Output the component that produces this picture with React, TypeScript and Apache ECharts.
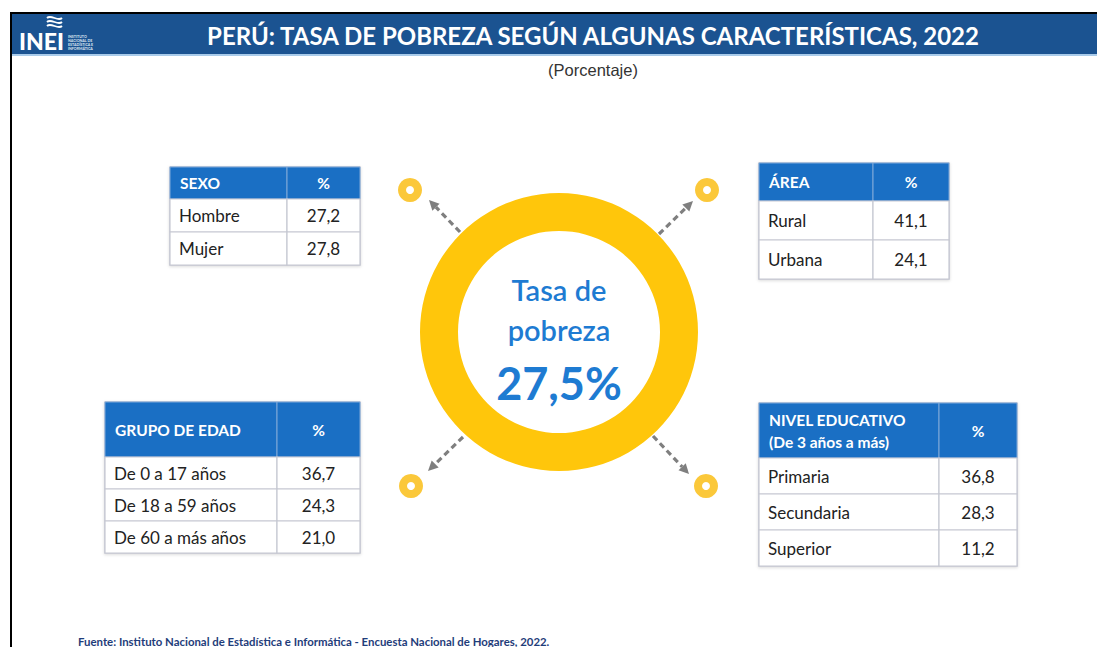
import React, { useEffect, useRef } from "react";
import * as echarts from "echarts";

// ---- Data ----
const tasaPobreza = 27.5;

const sexoHeader = ["SEXO"];
const sexoCats = ["Hombre", "Mujer"];
const sexoVals = [27.2, 27.8];

const areaHeader = ["ÁREA"];
const areaCats = ["Rural", "Urbana"];
const areaVals = [41.1, 24.1];

const edadHeader = ["GRUPO DE EDAD"];
const edadCats = ["De 0 a 17 años", "De 18 a 59 años", "De 60 a más años"];
const edadVals = [36.7, 24.3, 21.0];

const eduHeader = ["NIVEL EDUCATIVO", "(De 3 años a más)"];
const eduCats = ["Primaria", "Secundaria", "Superior"];
const eduVals = [36.8, 28.3, 11.2];

const titleText = "PERÚ: TASA DE POBREZA SEGÚN ALGUNAS CARACTERÍSTICAS, 2022";
const subtitleText = "(Porcentaje)";
const sourceText =
  "Fuente: Instituto Nacional de Estadística e Informática - Encuesta Nacional de Hogares, 2022.";

const FONT = "Lato, 'Open Sans', sans-serif";
const fmt = (v: number) => v.toFixed(1).replace(".", ",");

function makeTable(
  x: number,
  y: number,
  w: number,
  col1: number,
  headerH: number,
  rowH: number,
  header: string[],
  cats: string[],
  vals: number[]
) {
  const els: any[] = [];
  const headBlue = "#1A6FC4";
  const border = "#C6C8D2";
  const totalH = headerH + rowH * cats.length;
  els.push({
    type: "rect",
    shape: { x, y, width: w, height: totalH },
    style: { fill: "#fff", stroke: border, lineWidth: 1.5, shadowBlur: 3, shadowColor: "rgba(0,0,0,0.15)", shadowOffsetY: 1 },
  });
  els.push({
    type: "rect",
    shape: { x, y, width: col1, height: headerH },
    style: { fill: headBlue, stroke: "#7FA9D9", lineWidth: 1 },
  });
  els.push({
    type: "rect",
    shape: { x: x + col1, y, width: w - col1, height: headerH },
    style: { fill: headBlue, stroke: "#7FA9D9", lineWidth: 1 },
  });
  const lineH = 22;
  header.forEach((t, i) => {
    els.push({
      type: "text",
      x: x + 10,
      y: y + headerH / 2 + (i - (header.length - 1) / 2) * lineH,
      style: { text: t, fill: "#fff", font: `bold 15.5px ${FONT}`, verticalAlign: "middle", align: "left" },
    });
  });
  els.push({
    type: "text",
    x: x + col1 + (w - col1) / 2,
    y: y + headerH / 2,
    style: { text: "%", fill: "#fff", font: `bold 15.5px ${FONT}`, verticalAlign: "middle", align: "center" },
  });
  cats.forEach((c, i) => {
    const ry = y + headerH + i * rowH;
    els.push({
      type: "rect",
      shape: { x, y: ry, width: col1, height: rowH },
      style: { fill: "#fff", stroke: border, lineWidth: 1.2 },
    });
    els.push({
      type: "rect",
      shape: { x: x + col1, y: ry, width: w - col1, height: rowH },
      style: { fill: "#fff", stroke: border, lineWidth: 1.2 },
    });
    els.push({
      type: "text",
      x: x + 9,
      y: ry + rowH / 2,
      style: { text: c, fill: "#222", font: `17px ${FONT}`, verticalAlign: "middle", align: "left" },
    });
    els.push({
      type: "text",
      x: x + col1 + (w - col1) / 2,
      y: ry + rowH / 2,
      style: { text: fmt(vals[i]), fill: "#222", font: `17px ${FONT}`, verticalAlign: "middle", align: "center" },
    });
  });
  return els;
}

function arrow(x1: number, y1: number, x2: number, y2: number) {
  const col = "#7F7F7F";
  const ang = Math.atan2(y2 - y1, x2 - x1);
  const len = 10;
  const hw = 5;
  const bx = x2 - len * Math.cos(ang);
  const by = y2 - len * Math.sin(ang);
  const px = -Math.sin(ang);
  const py = Math.cos(ang);
  return [
    {
      type: "line",
      shape: { x1, y1, x2: bx, y2: by },
      style: { stroke: col, lineWidth: 3.2, lineDash: [6, 4] },
    },
    {
      type: "polygon",
      shape: {
        points: [
          [x2, y2],
          [bx + px * hw, by + py * hw],
          [bx - px * hw, by - py * hw],
        ],
      },
      style: { fill: col },
    },
  ];
}

function dot(cx: number, cy: number) {
  return [
    { type: "circle", shape: { cx, cy, r: 12 }, style: { fill: "#FBC83A" } },
    { type: "circle", shape: { cx, cy, r: 4 }, style: { fill: "#fff" } },
  ];
}

export default function App() {
  const ref = useRef<HTMLDivElement>(null);
  useEffect(() => {
    document.body.style.margin = "0";
    const chart = echarts.init(ref.current!, undefined, { renderer: "svg" });
    const wave = (y: number) => ({
      type: "bezierCurve",
      shape: { x1: 47, y1: y, cpx1: 51, cpy1: y - 4, cpx2: 58, cpy2: y + 4, x2: 62, y2: y },
      style: { stroke: "#fff", lineWidth: 1.8, fill: null },
    });
    const graphic: any[] = [
      { type: "rect", shape: { x: 10, y: 12, width: 1087, height: 2 }, style: { fill: "#000" } },
      { type: "rect", shape: { x: 10, y: 12, width: 2, height: 635 }, style: { fill: "#000" } },
      { type: "rect", shape: { x: 12, y: 14, width: 1085, height: 40 }, style: { fill: "#1B5391" } },
      { type: "rect", shape: { x: 12, y: 54, width: 1085, height: 2 }, style: { fill: "#A9CBEA" } },
      wave(18),
      wave(22),
      wave(26),
      {
        type: "text",
        x: 19,
        y: 41,
        style: { text: "INEI", fill: "#fff", font: `900 23px ${FONT}`, verticalAlign: "middle", align: "left" },
      },
      ...["INSTITUTO", "NACIONAL DE", "ESTADÍSTICA E", "INFORMÁTICA"].map((t, i) => ({
        type: "text",
        x: 68,
        y: 36 + i * 4.3,
        style: { text: t, fill: "#dfe8f3", font: `bold 3.6px ${FONT}`, verticalAlign: "middle", align: "left" },
      })),
      {
        type: "text",
        x: 593,
        y: 35,
        style: { text: titleText, fill: "#fff", font: `bold 24px ${FONT}`, verticalAlign: "middle", align: "center" },
      },
      {
        type: "text",
        x: 593,
        y: 70,
        style: { text: subtitleText, fill: "#333", font: `16.5px 'Liberation Sans', Arial, sans-serif`, verticalAlign: "middle", align: "center" },
      },
      {
        type: "text",
        x: 559,
        y: 289,
        style: { text: "Tasa de", fill: "#1E7BD2", font: `600 29px ${FONT}`, verticalAlign: "middle", align: "center" },
      },
      {
        type: "text",
        x: 559,
        y: 329,
        style: { text: "pobreza", fill: "#1E7BD2", font: `600 29px ${FONT}`, verticalAlign: "middle", align: "center" },
      },
      {
        type: "text",
        x: 559,
        y: 383,
        style: { text: fmt(tasaPobreza) + "%", fill: "#1E7BD2", font: `bold 45px ${FONT}`, verticalAlign: "middle", align: "center" },
      },
      ...arrow(460, 232, 429, 200),
      ...arrow(659, 234, 693, 201),
      ...arrow(463, 437, 428, 471),
      ...arrow(653, 436, 689, 474),
      ...dot(410, 190),
      ...dot(707, 190),
      ...dot(411, 486),
      ...dot(706, 486),
      ...makeTable(170, 167, 190, 117, 32, 33, sexoHeader, sexoCats, sexoVals),
      ...makeTable(759, 163, 190, 114, 38, 39, areaHeader, areaCats, areaVals),
      ...makeTable(105, 402, 255, 172, 55, 32, edadHeader, edadCats, edadVals),
      ...makeTable(759, 403, 258, 180, 55, 36, eduHeader, eduCats, eduVals),
      {
        type: "text",
        x: 78,
        y: 641,
        style: { text: sourceText, fill: "#1F3D7A", font: `bold 11.4px ${FONT}`, verticalAlign: "middle", align: "left" },
      },
    ];
    chart.setOption({
      animation: false,
      backgroundColor: "#ffffff",
      series: [
        {
          type: "pie",
          center: [559, 332],
          radius: [101, 139],
          silent: true,
          label: { show: false },
          labelLine: { show: false },
          itemStyle: { color: "#FFC60B" },
          data: [{ name: "Tasa de pobreza", value: tasaPobreza }],
        },
      ],
      graphic,
    });
    return () => chart.dispose();
  }, []);
  return <div ref={ref} style={{ width: 1097, height: 647 }} />;
}
